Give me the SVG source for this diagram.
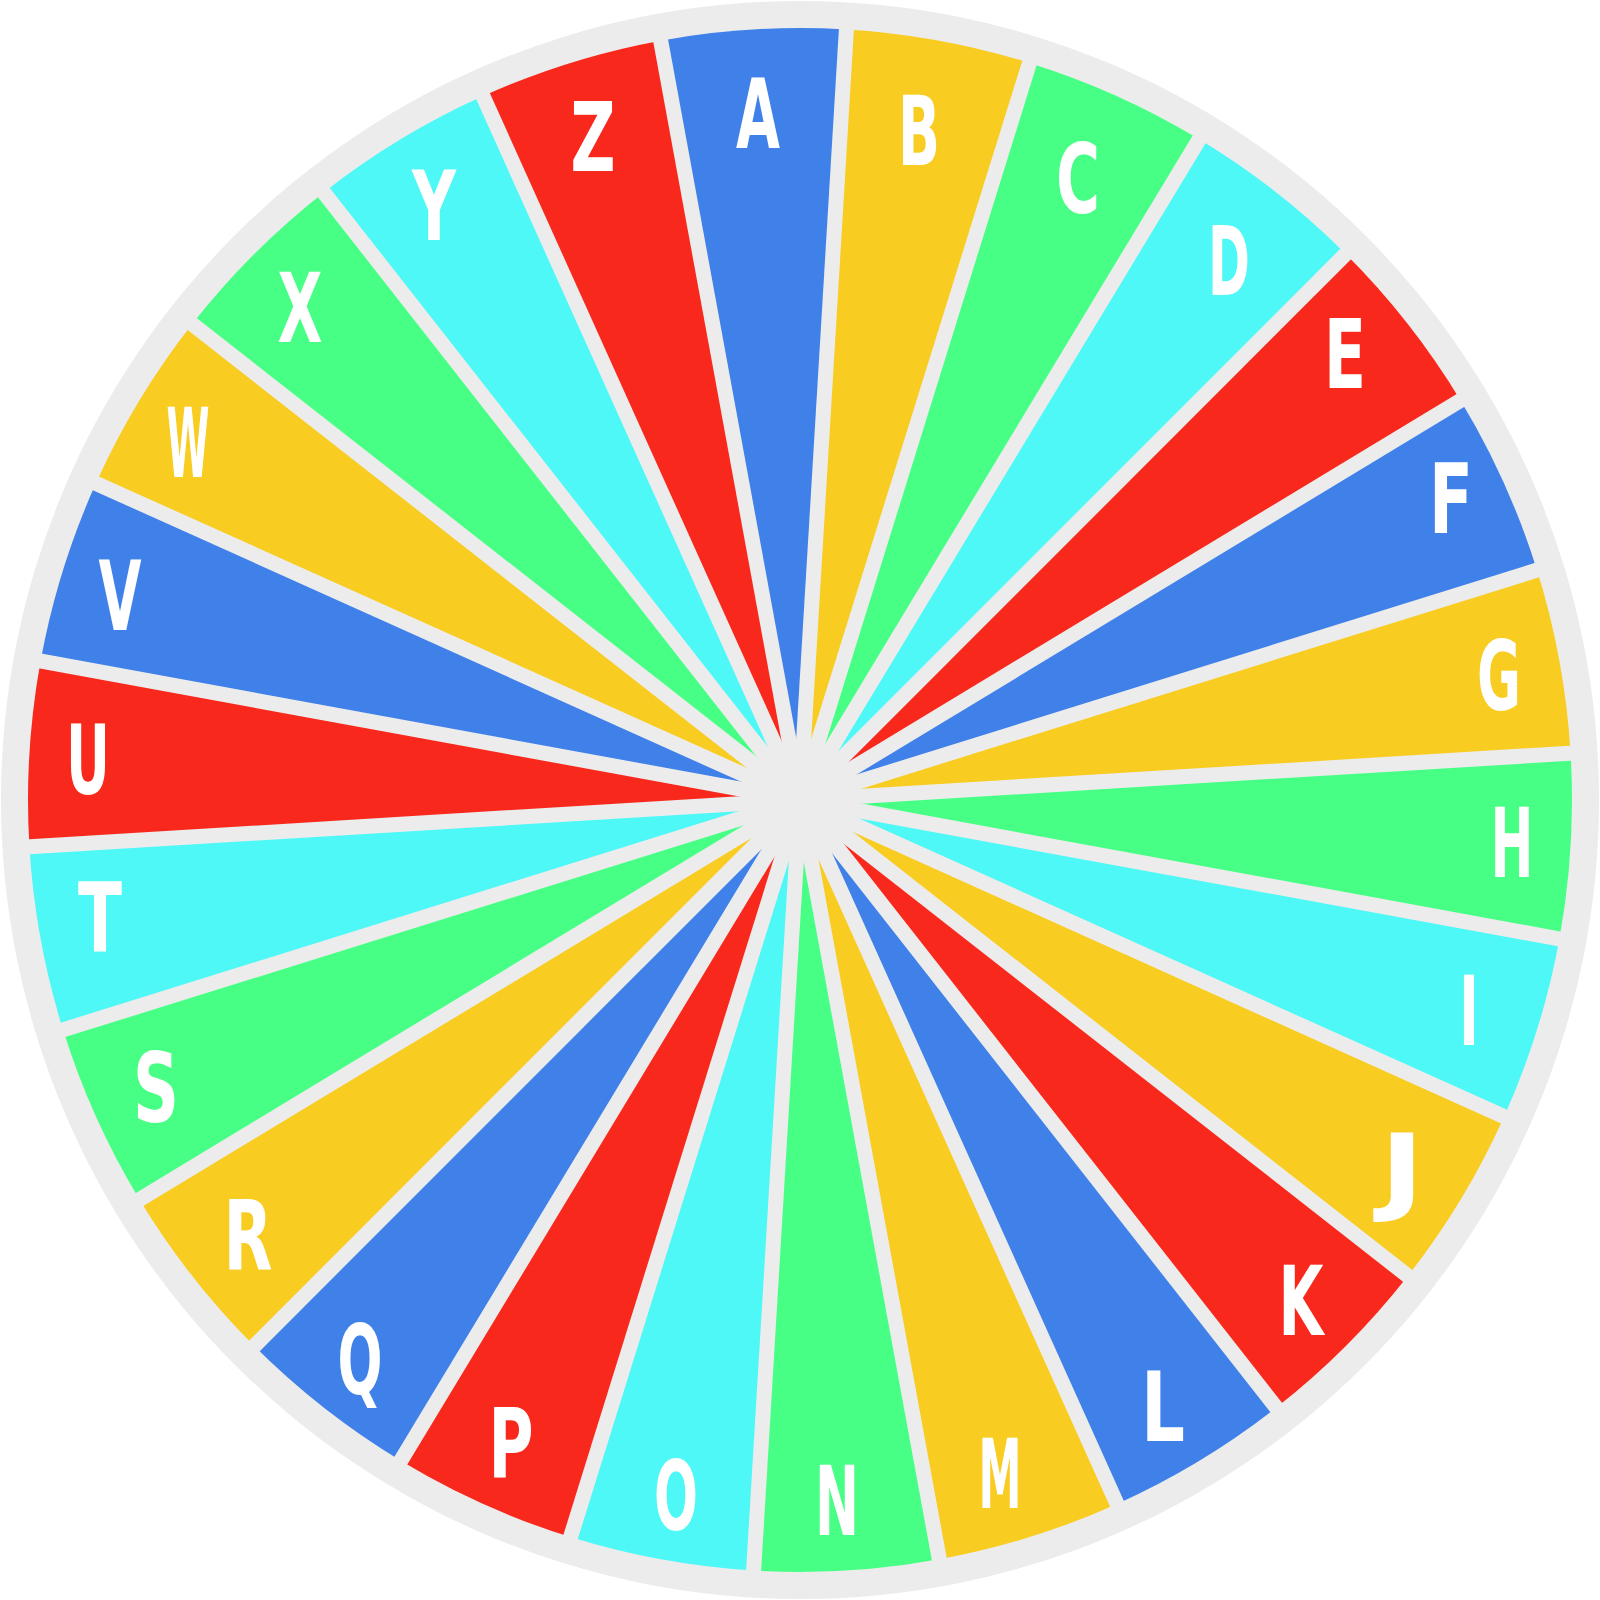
<svg xmlns="http://www.w3.org/2000/svg" xmlns:xlink="http://www.w3.org/1999/xlink" width="1600" height="1600" viewBox="0 0 1600 1600">
<style>
.bl{fill:#4080E9}.ye{fill:#F8CC20}.gr{fill:#48FF86}.cy{fill:#4DF8F6}.re{fill:#F8291C}
.sep{stroke:#ECECEC;stroke-width:15;stroke-linecap:butt}
.lt{fill:#FFFFFF;font-family:"DejaVu Sans","Liberation Sans",sans-serif;font-weight:bold;font-size:60px;text-anchor:middle}
</style>
<defs>
<path id="w" d="M800,800 L706.94,33.63 A772,772 0 0 1 893.06,33.63 Z"/>
<line id="s" x1="800" y1="800" x2="800" y2="12"/>
</defs>
<circle cx="800" cy="800" r="799" fill="#ECECEC"/>
<g id="segments">
<g id="seg-A"><use xlink:href="#w" class="bl" transform="rotate(-3.477 800 800)"/></g>
<g id="seg-B"><use xlink:href="#w" class="ye" transform="rotate(10.369 800 800)"/></g>
<g id="seg-C"><use xlink:href="#w" class="gr" transform="rotate(24.215 800 800)"/></g>
<g id="seg-D"><use xlink:href="#w" class="cy" transform="rotate(38.062 800 800)"/></g>
<g id="seg-E"><use xlink:href="#w" class="re" transform="rotate(51.908 800 800)"/></g>
<g id="seg-F"><use xlink:href="#w" class="bl" transform="rotate(65.754 800 800)"/></g>
<g id="seg-G"><use xlink:href="#w" class="ye" transform="rotate(79.6 800 800)"/></g>
<g id="seg-H"><use xlink:href="#w" class="gr" transform="rotate(93.446 800 800)"/></g>
<g id="seg-I"><use xlink:href="#w" class="cy" transform="rotate(107.292 800 800)"/></g>
<g id="seg-J"><use xlink:href="#w" class="ye" transform="rotate(121.138 800 800)"/></g>
<g id="seg-K"><use xlink:href="#w" class="re" transform="rotate(134.985 800 800)"/></g>
<g id="seg-L"><use xlink:href="#w" class="bl" transform="rotate(148.831 800 800)"/></g>
<g id="seg-M"><use xlink:href="#w" class="ye" transform="rotate(162.677 800 800)"/></g>
<g id="seg-N"><use xlink:href="#w" class="gr" transform="rotate(176.523 800 800)"/></g>
<g id="seg-O"><use xlink:href="#w" class="cy" transform="rotate(190.369 800 800)"/></g>
<g id="seg-P"><use xlink:href="#w" class="re" transform="rotate(204.215 800 800)"/></g>
<g id="seg-Q"><use xlink:href="#w" class="bl" transform="rotate(218.062 800 800)"/></g>
<g id="seg-R"><use xlink:href="#w" class="ye" transform="rotate(231.908 800 800)"/></g>
<g id="seg-S"><use xlink:href="#w" class="gr" transform="rotate(245.754 800 800)"/></g>
<g id="seg-T"><use xlink:href="#w" class="cy" transform="rotate(259.6 800 800)"/></g>
<g id="seg-U"><use xlink:href="#w" class="re" transform="rotate(273.446 800 800)"/></g>
<g id="seg-V"><use xlink:href="#w" class="bl" transform="rotate(287.292 800 800)"/></g>
<g id="seg-W"><use xlink:href="#w" class="ye" transform="rotate(301.138 800 800)"/></g>
<g id="seg-X"><use xlink:href="#w" class="gr" transform="rotate(314.985 800 800)"/></g>
<g id="seg-Y"><use xlink:href="#w" class="cy" transform="rotate(328.831 800 800)"/></g>
<g id="seg-Z"><use xlink:href="#w" class="re" transform="rotate(342.677 800 800)"/></g>
</g>
<g id="separators" class="sep">
<use xlink:href="#s" transform="rotate(-10.4 800 800)"/>
<use xlink:href="#s" transform="rotate(3.446 800 800)"/>
<use xlink:href="#s" transform="rotate(17.292 800 800)"/>
<use xlink:href="#s" transform="rotate(31.138 800 800)"/>
<use xlink:href="#s" transform="rotate(44.985 800 800)"/>
<use xlink:href="#s" transform="rotate(58.831 800 800)"/>
<use xlink:href="#s" transform="rotate(72.677 800 800)"/>
<use xlink:href="#s" transform="rotate(86.523 800 800)"/>
<use xlink:href="#s" transform="rotate(100.369 800 800)"/>
<use xlink:href="#s" transform="rotate(114.215 800 800)"/>
<use xlink:href="#s" transform="rotate(128.062 800 800)"/>
<use xlink:href="#s" transform="rotate(141.908 800 800)"/>
<use xlink:href="#s" transform="rotate(155.754 800 800)"/>
<use xlink:href="#s" transform="rotate(169.6 800 800)"/>
<use xlink:href="#s" transform="rotate(183.446 800 800)"/>
<use xlink:href="#s" transform="rotate(197.292 800 800)"/>
<use xlink:href="#s" transform="rotate(211.138 800 800)"/>
<use xlink:href="#s" transform="rotate(224.985 800 800)"/>
<use xlink:href="#s" transform="rotate(238.831 800 800)"/>
<use xlink:href="#s" transform="rotate(252.677 800 800)"/>
<use xlink:href="#s" transform="rotate(266.523 800 800)"/>
<use xlink:href="#s" transform="rotate(280.369 800 800)"/>
<use xlink:href="#s" transform="rotate(294.215 800 800)"/>
<use xlink:href="#s" transform="rotate(308.062 800 800)"/>
<use xlink:href="#s" transform="rotate(321.908 800 800)"/>
<use xlink:href="#s" transform="rotate(335.754 800 800)"/>
</g>
<g id="labels" class="lt">
<text transform="translate(758,148) scale(1,1.6)" textLength="44" lengthAdjust="spacingAndGlyphs">A</text>
<text transform="translate(919,165) scale(1,1.6)" textLength="42" lengthAdjust="spacingAndGlyphs">B</text>
<text transform="translate(1078,213) scale(1,1.6)" textLength="44" lengthAdjust="spacingAndGlyphs">C</text>
<text transform="translate(1229,295) scale(1,1.6)" textLength="42" lengthAdjust="spacingAndGlyphs">D</text>
<text transform="translate(1345,388) scale(1,1.6)" textLength="42" lengthAdjust="spacingAndGlyphs">E</text>
<text transform="translate(1451,533) scale(1,1.6)" textLength="44" lengthAdjust="spacingAndGlyphs">F</text>
<text transform="translate(1499,710) scale(1,1.6)" textLength="44" lengthAdjust="spacingAndGlyphs">G</text>
<text transform="translate(1512,877) scale(1,1.6)" textLength="43" lengthAdjust="spacingAndGlyphs">H</text>
<text transform="translate(1469,1045) scale(1,1.6)" textLength="20" lengthAdjust="spacingAndGlyphs">I</text>
<text transform="translate(1402,1203) scale(1,1.6)" textLength="44" lengthAdjust="spacingAndGlyphs">J</text>
<text transform="translate(1301,1335) scale(1,1.6)" textLength="45" lengthAdjust="spacingAndGlyphs">K</text>
<text transform="translate(1163,1441) scale(1,1.6)" textLength="44" lengthAdjust="spacingAndGlyphs">L</text>
<text transform="translate(1000,1508) scale(1,1.6)" textLength="43" lengthAdjust="spacingAndGlyphs">M</text>
<text transform="translate(837,1535) scale(1,1.6)" textLength="44" lengthAdjust="spacingAndGlyphs">N</text>
<text transform="translate(676,1530) scale(1,1.6)" textLength="44" lengthAdjust="spacingAndGlyphs">O</text>
<text transform="translate(511,1477) scale(1,1.6)" textLength="45" lengthAdjust="spacingAndGlyphs">P</text>
<text transform="translate(360,1394) scale(1,1.6)" textLength="45" lengthAdjust="spacingAndGlyphs">Q</text>
<text transform="translate(248,1270) scale(1,1.6)" textLength="49" lengthAdjust="spacingAndGlyphs">R</text>
<text transform="translate(156,1122) scale(1,1.6)" textLength="46" lengthAdjust="spacingAndGlyphs">S</text>
<text transform="translate(100,952) scale(1,1.6)" textLength="44" lengthAdjust="spacingAndGlyphs">T</text>
<text transform="translate(88,794) scale(1,1.6)" textLength="44" lengthAdjust="spacingAndGlyphs">U</text>
<text transform="translate(120,630) scale(1,1.6)" textLength="43" lengthAdjust="spacingAndGlyphs">V</text>
<text transform="translate(188,477) scale(1,1.6)" textLength="43" lengthAdjust="spacingAndGlyphs">W</text>
<text transform="translate(300,342) scale(1,1.6)" textLength="45" lengthAdjust="spacingAndGlyphs">X</text>
<text transform="translate(434,240) scale(1,1.6)" textLength="44" lengthAdjust="spacingAndGlyphs">Y</text>
<text transform="translate(593,171) scale(1,1.6)" textLength="45" lengthAdjust="spacingAndGlyphs">Z</text>
</g>
</svg>
